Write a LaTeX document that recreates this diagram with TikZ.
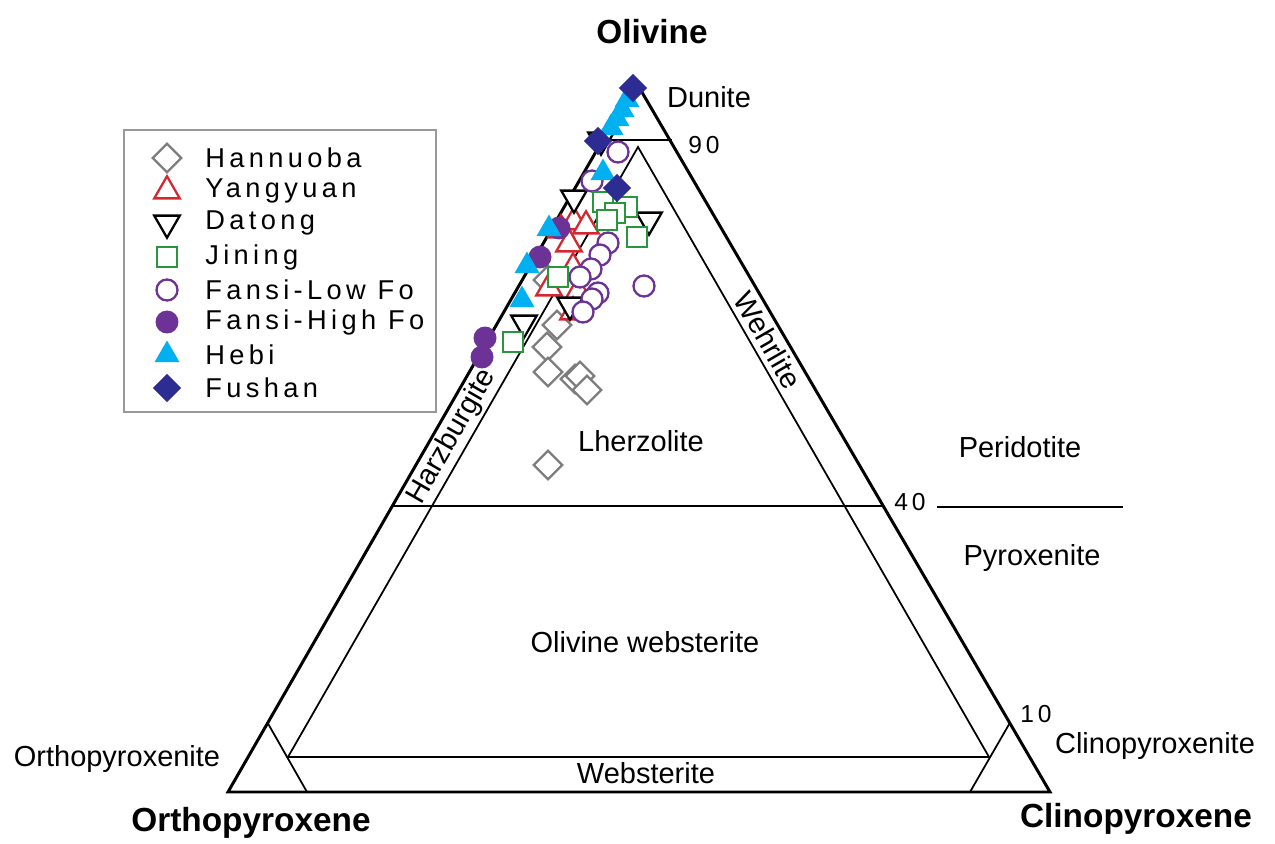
\documentclass[tikz,border=0pt]{standalone}
\usepackage{fontspec}
\setmainfont{Liberation Sans}
\newfontfamily\legfont[LetterSpace=16]{Liberation Sans}
\usetikzlibrary{shapes.geometric}
\definecolor{hancol}{RGB}{125,125,125}
\definecolor{yancol}{RGB}{212,40,48}
\definecolor{jincol}{RGB}{40,150,60}
\definecolor{fancol}{RGB}{108,50,150}
\definecolor{hebcol}{RGB}{0,176,240}
\definecolor{fuscol}{RGB}{44,44,146}
\tikzset{
  mk/.style={inner sep=0pt,line width=1.3pt},
  hannuoba/.style={mk,diamond,draw=hancol,fill=white,minimum size=5.9mm},
  yangyuan/.style={mk,regular polygon,regular polygon sides=3,draw=yancol,fill=white,minimum size=5.9mm},
  datong/.style={mk,regular polygon,regular polygon sides=3,shape border rotate=180,draw=black,fill=white,minimum size=5.9mm},
  jining/.style={mk,rectangle,draw=jincol,fill=white,minimum size=4.1mm},
  fansilow/.style={mk,circle,draw=fancol,fill=white,minimum size=4.2mm},
  fansihigh/.style={mk,circle,fill=fancol,minimum size=4.6mm},
  hebi/.style={mk,regular polygon,regular polygon sides=3,fill=hebcol,minimum size=5.8mm},
  fushan/.style={mk,diamond,fill=fuscol,minimum size=5.8mm},
  lab/.style={inner sep=0pt,font=\fontsize{16.5}{19}\selectfont},
  num/.style={inner sep=0pt,font=\legfont\fontsize{14}{16}\selectfont},
  leg/.style={inner sep=0pt,anchor=west,font=\legfont\fontsize{15.5}{18}\selectfont},
  apex/.style={inner sep=0pt,font=\bfseries\fontsize{19}{22}\selectfont},
  thin/.style={line width=1pt},
  thick/.style={line width=1.7pt}
}
\begin{document}
\begin{tikzpicture}[x=0.02cm,y=-0.02cm]
\useasboundingbox (0,0) rectangle (1275,844);
%\draw[help lines,step=50] (0,0) grid (1275,844);
\coordinate (ol) at (636,82);
\coordinate (opx) at (228,792);
\coordinate (cpx) at (1050,792);
\coordinate (in1) at (638,147);
\coordinate (in2) at (288,757);
\coordinate (in3) at (989,757);

% field boundaries
\draw[thin] (in1) -- (in2) -- (in3) -- cycle;
\draw[thin] (602.7,140) -- (672,140);
\draw[thin] (392.4,506) -- (883.2,506);
\draw[thin] (937,507) -- (1123,507);
\draw[thin] (267.7,723) -- (307,792);
\draw[thin] (1009.8,723) -- (970,792);
\draw[thick,line join=miter] (ol) -- (opx) -- (cpx) -- cycle;

\node[apex] (olname) at (652,32) {Olivine};
\node[apex] (opxname) at (251,823) {Orthopyroxene};
\node[apex] (cpxname) at (1136,819) {Clinopyroxene};
\foreach \x/\y/\n/\t in {709/97/dun/Dunite, 641/441/lhz/Lherzolite, 1020/447/per/Peridotite,
  1032/558/pyx/Pyroxenite, 645/642/olweb/Olivine websterite, 1155/746/cpxite/Clinopyroxenite,
  117/759/opxite/Orthopyroxenite, 646/773/web/Websterite}
  \node[lab] (\n) at (\x,\y) {\t};
\node[lab,rotate=60] (hzb) at (452,437) {Harzburgite};
\node[lab,rotate=-60] (wehr) at (768,340) {Wehrlite};
\foreach \x/\y/\t in {704/145/90, 910/502/40, 1036/714/10}
  \node[num] (n\t) at (\x,\y) {\t};

% samples
\foreach \x/\y [count=\i] in {548/280, 557/325, 547/347, 548/372, 575/379, 580/376, 587/390, 548/465}
  \node[hannuoba] (han\i) at (\x,\y) {};
\foreach \x/\y [count=\i] in {561/230, 574/222, 586/226, 569/244, 573/268, 549/288, 578/292, 573/312}
  \node[yangyuan] (yan\i) at (\x,\y) {};
\foreach \x/\y [count=\i] in {601/140, 574/198, 649/220, 570/305, 524/323}
  \node[datong] (dat\i) at (\x,\y) {};
\foreach \x/\y [count=\i] in {618/152, 592/181, 608/243, 600/255, 591/269, 580/277, 598/293, 592/299, 583/312, 644/286}
  \node[fansilow] (fsl\i) at (\x,\y) {};
\foreach \x/\y [count=\i] in {603/202, 627/207, 615/213, 607/220, 637/237, 558/277, 513/342}
  \node[jining] (jin\i) at (\x,\y) {};
\foreach \x/\y [count=\i] in {559/228, 540/257, 485/338, 482/357}
  \node[fansihigh] (fsh\i) at (\x,\y) {};
\foreach \x/\y [count=\i] in {627/100, 622/110, 617/119, 611/128, 603/173, 549/229, 527/266, 522/300}
  \node[hebi] (heb\i) at (\x,\y) {};
\foreach \x/\y [count=\i] in {633/88, 598/141, 617/188}
  \node[fushan] (fus\i) at (\x,\y) {};

% legend
\draw[line width=1.5pt,draw=gray!80] (124,130) rectangle (436,412);
\foreach \y/\s/\t in {158/hannuoba/Hannuoba, 191/yangyuan/Yangyuan, 223/datong/Datong, 257/jining/Jining,
  290/fansilow/Fansi-Low Fo, 322/fansihigh/Fansi-High Fo, 355/hebi/Hebi, 388/fushan/Fushan}
{
  \node[\s] (key-\s) at (167,\y) {};
  \node[leg] (txt-\s) at (205,\y) {\t};
}
\end{tikzpicture}
\end{document}
